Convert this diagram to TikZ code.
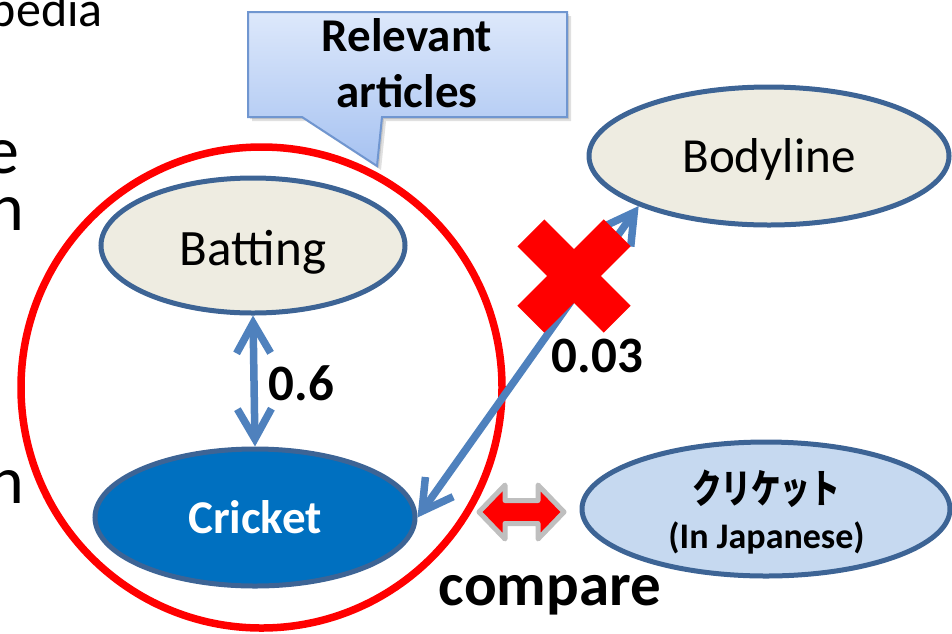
\documentclass[tikz,border=0pt]{standalone}
\usepackage{fontspec}
\setmainfont{Carlito}
\newfontfamily\cjk{Noto Sans CJK JP}
\usetikzlibrary{shapes.geometric,arrows.meta}

\definecolor{nodeborder}{HTML}{3D6495}
\definecolor{nodefill}{HTML}{EEECE1}
\definecolor{cricketfill}{HTML}{0070C0}
\definecolor{jpfill}{HTML}{C6D9F0}
\definecolor{linkblue}{HTML}{4F81BD}
\definecolor{calloutedge}{HTML}{7096D0}
\definecolor{callouttop}{HTML}{DDE8FB}
\definecolor{calloutbottom}{HTML}{A6C2F1}
\definecolor{outlinegray}{HTML}{BFBFBF}

\newcommand\setpx[2]{\fontsize{#1pt}{#2pt}\selectfont}

\begin{document}
\begin{tikzpicture}[x=1pt,y=-1pt,
  article/.style={ellipse, draw=nodeborder, line width=5pt, inner sep=0pt,
                  text height=32pt, text depth=0pt},
  link/.style={linkblue, line width=7.5pt, line cap=round,
               {Straight Barb[length=30pt,width=34pt]}-{Straight Barb[length=30pt,width=34pt]}},
  numtext/.style={font=\bfseries\setpx{51}{60}, inner sep=0pt, anchor=base},
  fragment/.style={inner sep=0pt, anchor=base east},
]
\useasboundingbox (0,0) rectangle (952,633);

% text running in from the left edge
\node[fragment, font=\setpx{50}{60}] (frag1) at (103,26) {pedia};
\node[fragment, font=\setpx{68}{80}] (frag2) at (20,173) {e};
\node[fragment, font=\setpx{68}{80}] (frag3) at (24,230) {n};
\node[fragment, font=\setpx{68}{80}] (frag4) at (24,503) {n};

% group of relevant articles
\node[circle, draw=red, line width=7.5pt, minimum size=481pt, inner sep=0pt] (group) at (261.5,387.5) {};

% article nodes
\node[article, fill=nodefill, minimum width=304pt, minimum height=135pt,
      text height=39pt, font=\setpx{51}{60}] (batting) at (253,245.5) {Batting};
\node[article, fill=cricketfill, text=white, minimum width=320pt, minimum height=137pt,
      text height=31pt, font=\bfseries\setpx{47}{56}] (cricket) at (255,517.5) {Cricket};
\node[article, fill=nodefill, minimum width=360pt, minimum height=138pt,
      font=\setpx{49}{58}] (bodyline) at (769,156) {Bodyline};
\node[article, fill=jpfill, minimum width=368pt, minimum height=134pt] (japanese) at (766,509) {};
\node[inner sep=0pt, anchor=base, font=\cjk\bfseries\setpx{40}{46}] (jpname) at (766,503)
      {\scalebox{0.74}[1]{クリケット}};
\node[inner sep=0pt, anchor=base, font=\bfseries\setpx{36}{42}] (jpnote) at (766.5,548) {(In Japanese)};

% links with their weights
\draw[link] (batting.south) -- (cricket.north);
\draw[link] (cricket.east) -- (bodyline.201);
\node[numtext] (w1) at (301.5,400) {0.6};
\node[numtext] (w2) at (597.5,372) {0.03};

% rejected link mark
\begin{scope}[shift={(574,276)}]
  \fill[red, rotate=45] (-61,-19) rectangle (61,19);
  \fill[red, rotate=-45] (-61,-19) rectangle (61,19);
\end{scope}

% comparison arrow
\draw[outlinegray, fill=red, line width=5pt, line join=round]
  (479,512) -- (505,485) -- (505,500.5) -- (538,500.5) -- (538,485) -- (564,512)
  -- (538,539) -- (538,523.5) -- (505,523.5) -- (505,539) -- cycle;
\node[inner sep=0pt, anchor=base, font=\bfseries\setpx{61}{72}] (comparetext) at (550,605) {compare};

% callout
\fill[black, opacity=0.12] (252,16) -- (571,16) -- (571,121) -- (386,121) -- (381,170) -- (306,121) -- (252,121) -- cycle;
\fill[black, opacity=0.12] (250,14) -- (569,14) -- (569,119) -- (384,119) -- (379,168) -- (304,119) -- (250,119) -- cycle;
\path[draw=calloutedge, line width=2pt, top color=callouttop, bottom color=calloutbottom]
  (248,12) -- (567,12) -- (567,117) -- (382,117) -- (377,166) -- (302,117) -- (248,117) -- cycle;
\node[align=center, inner sep=0pt, font=\bfseries\fontsize{47pt}{56pt}\selectfont] (callout) at (407,63.5)
  {Relevant\\articles};
\end{tikzpicture}
\end{document}
